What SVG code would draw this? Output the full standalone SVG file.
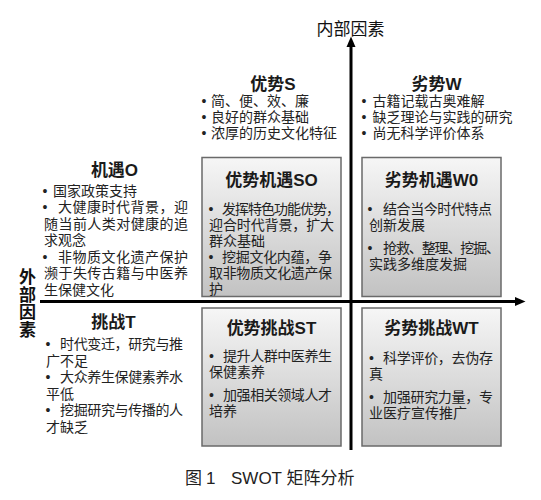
<svg xmlns="http://www.w3.org/2000/svg" width="541" height="500" viewBox="0 0 541 500">
<defs>
<linearGradient id="boxg" x1="0" y1="0" x2="0" y2="1">
<stop offset="0" stop-color="#f6f6f6"/>
<stop offset="1" stop-color="#c2c2c2"/>
</linearGradient>
<marker id="arr" markerUnits="userSpaceOnUse" markerWidth="11" markerHeight="10" refX="0" refY="5" orient="auto">
<path d="M0,0.5 L10.5,5 L0,9.5 z" fill="#000"/>
</marker>
</defs>
<style>
text{font-family:'Liberation Sans','Noto Sans CJK SC',sans-serif;fill:#222}
.t{font-size:17px;font-weight:bold;text-anchor:middle;fill:#1a1a1a}
.b{font-size:14px}
.d{font-size:14px;text-anchor:middle}
.ax{font-size:17px;fill:#111}
.box{fill:url(#boxg);stroke:#6a6a6a;stroke-width:1.5}
.axis{stroke:#000;stroke-width:3;fill:none;marker-end:url(#arr)}
</style>
<rect width="541" height="500" fill="#fff"/>

<g id="connectors">
<line class="axis" x1="351" y1="450" x2="351" y2="47"/>
<line class="axis" x1="40" y1="301.5" x2="515" y2="301.5"/>
</g>

<g id="axis-labels">
<text class="ax" x="350.5" y="35" text-anchor="middle">内部因素</text>
<g font-weight="bold">
<text class="ax" x="27.5" y="283" text-anchor="middle">外</text>
<text class="ax" x="27.5" y="300.5" text-anchor="middle">部</text>
<text class="ax" x="27.5" y="318" text-anchor="middle">因</text>
<text class="ax" x="27.5" y="335.5" text-anchor="middle">素</text>
</g>
</g>

<g id="node-S">
<text class="t" x="273" y="90">优势S</text>
<text class="d" x="204" y="106">•</text><text class="b" x="211" y="106">简、便、效、廉</text>
<text class="d" x="204" y="122">•</text><text class="b" x="211" y="122">良好的群众基础</text>
<text class="d" x="204" y="138">•</text><text class="b" x="211" y="138">浓厚的历史文化特征</text>
</g>

<g id="node-W">
<text class="t" x="436.5" y="90">劣势W</text>
<text class="d" x="364" y="106">•</text><text class="b" x="372.5" y="106">古籍记载古奥难解</text>
<text class="d" x="364" y="122">•</text><text class="b" x="372.5" y="122">缺乏理论与实践的研究</text>
<text class="d" x="364" y="138">•</text><text class="b" x="372.5" y="138">尚无科学评价体系</text>
</g>

<g id="node-O">
<text class="t" x="114.5" y="176">机遇O</text>
<text class="d" x="45" y="195.5">•</text><text class="b" x="53" y="195.5">国家政策支持</text>
<text class="d" x="45" y="212">•</text><text class="b" x="58" y="212" textLength="130" lengthAdjust="spacing">大健康时代背景，迎</text>
<text class="b" x="44" y="228.5" textLength="144" lengthAdjust="spacing">随当前人类对健康的追</text>
<text class="b" x="44" y="245">求观念</text>
<text class="d" x="45" y="261.5">•</text><text class="b" x="58" y="261.5" textLength="130" lengthAdjust="spacing">非物质文化遗产保护</text>
<text class="b" x="44" y="278" textLength="144" lengthAdjust="spacing">濒于失传古籍与中医养</text>
<text class="b" x="44" y="294.5">生保健文化</text>
</g>

<g id="node-T">
<text class="t" x="113.5" y="328">挑战T</text>
<text class="d" x="48" y="349">•</text><text class="b" x="60" y="349" textLength="123" lengthAdjust="spacing">时代变迁，研究与推</text>
<text class="b" x="46" y="365.5">广不足</text>
<text class="d" x="48" y="382">•</text><text class="b" x="60" y="382" textLength="123" lengthAdjust="spacing">大众养生保健素养水</text>
<text class="b" x="46" y="398.5">平低</text>
<text class="d" x="48" y="415">•</text><text class="b" x="60" y="415" textLength="123" lengthAdjust="spacing">挖掘研究与传播的人</text>
<text class="b" x="46" y="431.5">才缺乏</text>
</g>

<g id="node-SO">
<rect class="box" x="202" y="157.5" width="139" height="139"/>
<text class="t" x="271.5" y="186">优势机遇SO</text>
<text class="d" x="211" y="214">•</text><text class="b" x="222" y="214" textLength="118" lengthAdjust="spacing">发挥特色功能优势，</text>
<text class="b" x="209" y="230" textLength="125" lengthAdjust="spacing">迎合时代背景，扩大</text>
<text class="b" x="209" y="246">群众基础</text>
<text class="d" x="211" y="262">•</text><text class="b" x="222" y="262" textLength="110" lengthAdjust="spacing">挖掘文化内蕴，争</text>
<text class="b" x="209" y="278" textLength="123" lengthAdjust="spacing">取非物质文化遗产保</text>
<text class="b" x="209" y="294">护</text>
</g>

<g id="node-WO">
<rect class="box" x="362" y="157.5" width="139" height="139"/>
<text class="t" x="431.5" y="186">劣势机遇W0</text>
<text class="d" x="370" y="214">•</text><text class="b" x="383" y="214" textLength="109" lengthAdjust="spacing">结合当今时代特点</text>
<text class="b" x="369" y="230">创新发展</text>
<text class="d" x="370" y="253">•</text><text class="b" x="383" y="253" textLength="117" lengthAdjust="spacing">抢救、整理、挖掘、</text>
<text class="b" x="369" y="269">实践多维度发掘</text>
</g>

<g id="node-ST">
<rect class="box" x="202" y="308" width="139" height="138"/>
<text class="t" x="271.5" y="334">优势挑战ST</text>
<text class="d" x="211.5" y="361">•</text><text class="b" x="223" y="361" textLength="109" lengthAdjust="spacing">提升人群中医养生</text>
<text class="b" x="209" y="377">保健素养</text>
<text class="d" x="211.5" y="400">•</text><text class="b" x="223" y="400" textLength="109" lengthAdjust="spacing">加强相关领域人才</text>
<text class="b" x="209" y="416">培养</text>
</g>

<g id="node-WT">
<rect class="box" x="362" y="308" width="139" height="138"/>
<text class="t" x="431.5" y="334">劣势挑战WT</text>
<text class="d" x="371.5" y="363">•</text><text class="b" x="383" y="363" textLength="110" lengthAdjust="spacing">科学评价，去伪存</text>
<text class="b" x="369" y="379">真</text>
<text class="d" x="371.5" y="402">•</text><text class="b" x="383" y="402" textLength="110" lengthAdjust="spacing">加强研究力量，专</text>
<text class="b" x="369" y="418">业医疗宣传推广</text>
</g>

<g id="caption">
<text x="185" y="484" font-size="17">图</text>
<text x="206" y="484" font-size="17">1</text>
<text x="231" y="484" font-size="17">SWOT 矩阵分析</text>
</g>
</svg>
